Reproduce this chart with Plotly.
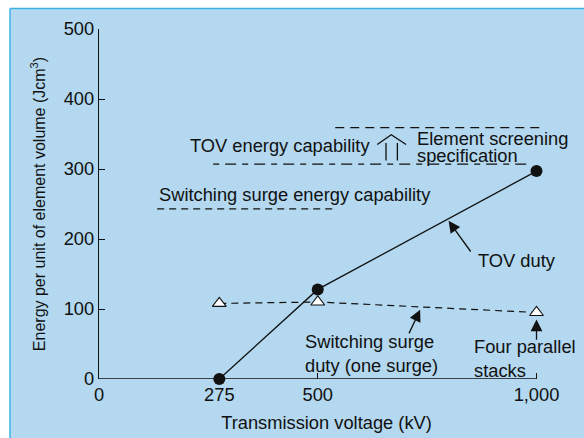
import plotly.graph_objects as go

# Transmission voltage (kV) and energy per unit element volume (J/cm3)
voltage_kv = [275, 500, 1000]
tov_duty = [0, 128, 297]
switching_duty = [108, 110, 95]

# Capability / specification levels (x extent in kV, level in J/cm3)
ss_capability_x = [133, 540]
ss_capability_y = 243
tov_capability_x = [261, 982]
tov_capability_y = 307
screening_x = [540, 1016]
screening_y = 359

x_tick_vals = [0, 275, 500, 1000]
x_tick_text = ["0", "275", "500", "1,000"]
y_tick_vals = [0, 100, 200, 300, 400, 500]
x_axis_end = 1000

FONT = "Liberation Sans, Arial, sans-serif"
INK = "#111111"
PANEL = "#b3d8ef"
EDGE = "#3db3e4"
FS = 18.3

fig = go.Figure()

# Capability levels
fig.add_trace(go.Scatter(x=ss_capability_x, y=[ss_capability_y] * 2, mode="lines",
                         line=dict(color=INK, width=1.2, dash="7px,5px"), hoverinfo="skip"))
fig.add_trace(go.Scatter(x=tov_capability_x, y=[tov_capability_y] * 2, mode="lines",
                         line=dict(color=INK, width=1.2, dash="6px,6px,11px,6px"), hoverinfo="skip"))
fig.add_trace(go.Scatter(x=screening_x, y=[screening_y] * 2, mode="lines",
                         line=dict(color=INK, width=1.2, dash="9px,6px"), hoverinfo="skip"))

# Switching surge duty
fig.add_trace(go.Scatter(x=voltage_kv, y=switching_duty, mode="lines+markers",
                         line=dict(color=INK, width=1.2, dash="7px,5px"),
                         marker=dict(symbol="triangle-up", size=12, color="white",
                                     line=dict(color=INK, width=1.1)),
                         cliponaxis=False))

# TOV duty
fig.add_trace(go.Scatter(x=voltage_kv, y=tov_duty, mode="lines+markers",
                         line=dict(color=INK, width=1.3),
                         marker=dict(symbol="circle", size=12, color=INK),
                         cliponaxis=False))

shapes = []
# x axis line ending at 1,000 kV
shapes.append(dict(type="line", xref="x", yref="y", x0=0, x1=x_axis_end, y0=0, y1=0,
                   line=dict(color=INK, width=1.3)))
# open double arrow between the two TOV levels
shapes.append(dict(type="path", xref="x", yref="y",
                   path="M 656,312 L 656,337 M 682,312 L 682,337 "
                        "M 636,335 L 668,349 L 702,335",
                   line=dict(color=INK, width=1.3)))
# white margin and blue frame around the panel
shapes.append(dict(type="rect", xref="paper", yref="paper", x0=-1, x1=2,
                   ysizemode="pixel", yanchor=1, y0=20.5, y1=60,
                   fillcolor="white", line=dict(width=0), layer="above"))
shapes.append(dict(type="rect", yref="paper", xref="paper", y0=-1, y1=2,
                   xsizemode="pixel", xanchor=0, x0=-140, x1=-89,
                   fillcolor="white", line=dict(width=0), layer="above"))
shapes.append(dict(type="line", xref="paper", yref="paper",
                   xsizemode="pixel", xanchor=0, x0=-89, x1=600,
                   ysizemode="pixel", yanchor=1, y0=20.5, y1=20.5,
                   line=dict(color=EDGE, width=1.5)))
shapes.append(dict(type="line", xref="paper", yref="paper",
                   xsizemode="pixel", xanchor=0, x0=-89, x1=-89,
                   ysizemode="pixel", yanchor=1, y0=20.5, y1=-430,
                   line=dict(color=EDGE, width=1.5)))

tf = dict(family=FONT, size=FS, color=INK)
annotations = [
    dict(x=624, y=333, text="TOV energy capability", xanchor="right", yanchor="middle"),
    dict(x=722, y=343, text="Element screening", xanchor="left", yanchor="middle"),
    dict(x=722, y=319, text="specification", xanchor="left", yanchor="middle"),
    dict(x=132, y=264, text="Switching surge energy capability", xanchor="left", yanchor="middle"),
    dict(x=861, y=170, text="TOV duty", xanchor="left", yanchor="middle"),
    dict(x=466, y=37, text="Switching surge<br>duty (one surge)", xanchor="left", yanchor="middle",
         align="left"),
    dict(x=852, y=30, text="Four parallel<br>stacks", xanchor="left", yanchor="middle", align="left"),
]
for a in annotations:
    a.update(xref="x", yref="y", showarrow=False, font=tf)

arrow = dict(xref="x", yref="y", axref="x", ayref="y", text="", showarrow=True,
             arrowhead=2, arrowsize=1.8, arrowwidth=1.3, arrowcolor=INK)
annotations += [
    dict(x=799, y=226, ax=852, ay=180, **arrow),
    dict(x=734, y=99, ax=707, ay=63, **arrow),
    dict(x=1000, y=85, ax=1000, ay=54, **arrow),
]

fig.update_layout(
    width=584, height=438,
    margin=dict(l=99, r=30, t=29, b=59, autoexpand=False),
    paper_bgcolor=PANEL, plot_bgcolor=PANEL,
    showlegend=False,
    font=dict(family=FONT, size=FS, color=INK),
    shapes=shapes, annotations=annotations,
)
fig.update_xaxes(range=[0, 1040], tickvals=x_tick_vals, ticktext=x_tick_text,
                 ticks="inside", ticklen=6, tickwidth=1.3, tickcolor=INK,
                 showline=False, showgrid=False, zeroline=False,
                 ticklabelstandoff=3, automargin=False,
                 tickfont=dict(family=FONT, size=FS, color=INK),
                 title=dict(text="Transmission voltage (kV)", standoff=11,
                            font=dict(family=FONT, size=FS, color=INK)))
fig.update_yaxes(range=[0, 500], tickvals=y_tick_vals,
                 ticks="inside", ticklen=6, tickwidth=1.3, tickcolor=INK,
                 showline=True, linecolor=INK, linewidth=1.3,
                 showgrid=False, zeroline=False, automargin=False,
                 tickfont=dict(family=FONT, size=FS, color=INK),
                 title=dict(text="Energy per unit of element volume (Jcm<sup>3</sup>)", standoff=14,
                            font=dict(family=FONT, size=16, color=INK)))

fig.write_html("out.html")
